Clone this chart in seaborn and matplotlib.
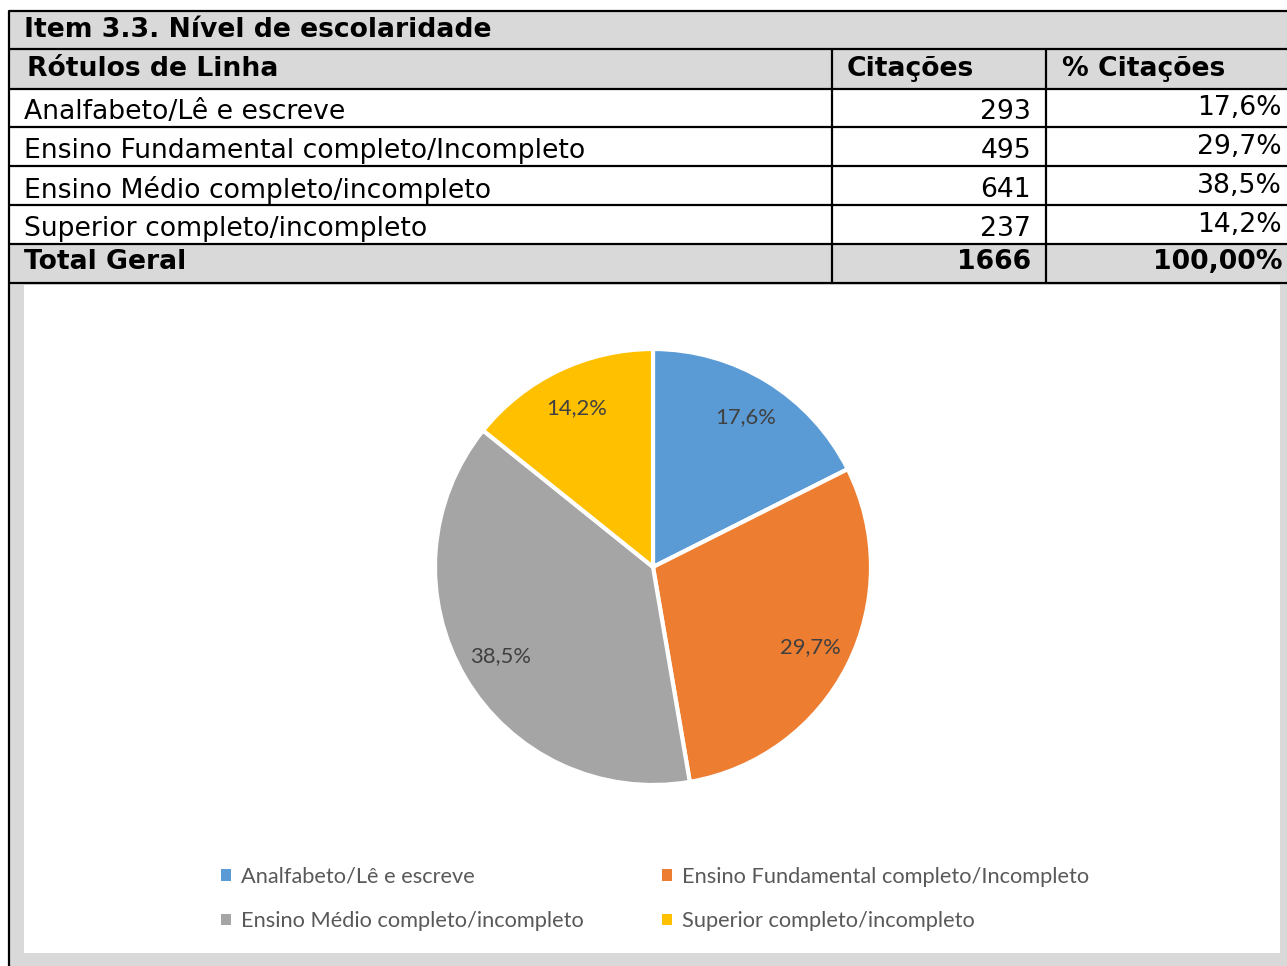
import matplotlib
matplotlib.use("Agg")
import matplotlib.pyplot as plt
from matplotlib.patches import Rectangle
import seaborn as sns

# ---- data ----
title = "Item 3.3. Nível de escolaridade"
header = ["Rótulos de Linha", "Citações", "% Citações"]
categories = [
    "Analfabeto/Lê e escreve",
    "Ensino Fundamental completo/Incompleto",
    "Ensino Médio completo/incompleto",
    "Superior completo/incompleto",
]
citacoes = [293, 495, 641, 237]
pct_labels = ["17,6%", "29,7%", "38,5%", "14,2%"]
total_label = "Total Geral"
total_citacoes = "1666"
total_pct = "100,00%"
colors = ["#5B9BD5", "#ED7D31", "#A5A5A5", "#FFC000"]

sns.set_theme(style="white")
plt.rcParams["font.family"] = ["DejaVu Sans"]
plt.rcParams["text.color"] = "black"

W, H = 1287, 966
fig = plt.figure(figsize=(W / 100, H / 100), dpi=100)
fig.patch.set_facecolor("white")

# overlay axes in pixel coordinates for table layout
bg = fig.add_axes([0, 0, 1, 1])
bg.set_xlim(0, W)
bg.set_ylim(H, 0)
bg.axis("off")

gray = "#D9D9D9"
# chart area frame
bg.add_patch(Rectangle((9, 283), W - 9, H - 283, facecolor=gray, edgecolor="none"))
bg.add_patch(Rectangle((24, 285), 1280 - 24, 953 - 285, facecolor="white", edgecolor="none"))

# table backgrounds
rows_y = [11, 49, 89, 127, 166, 205, 244, 283]
for (y0, y1) in [(11, 49), (49, 89), (244, 283)]:
    bg.add_patch(Rectangle((9, y0), W - 9, y1 - y0, facecolor=gray, edgecolor="none"))

lw = 1.6
for y in rows_y:
    bg.plot([9, W], [y, y], color="black", lw=lw, solid_capstyle="butt")
bg.plot([9, 9], [11, H], color="black", lw=lw)
for x in [832, 1046]:
    bg.plot([x, x], [49, 283], color="black", lw=lw)

fs = 19.2
tc = "black"
bg.text(24, 30, title, fontsize=fs, fontweight="bold", va="center", ha="left", color=tc)
bg.text(27, 69, header[0], fontsize=fs, fontweight="bold", va="center", ha="left", color=tc)
bg.text(847, 69, header[1], fontsize=fs, fontweight="bold", va="center", ha="left", color=tc)
bg.text(1062, 69, header[2], fontsize=fs, fontweight="bold", va="center", ha="left", color=tc)
row_centers = [112, 151, 190, 229]
for yc, cat, n, p in zip(row_centers, categories, citacoes, pct_labels):
    bg.text(24, yc, cat, fontsize=fs, va="center", ha="left", color=tc)
    bg.text(1031, yc, str(n), fontsize=fs, va="center", ha="right", color=tc)
    bg.text(1282, yc - 4, p, fontsize=fs, va="center", ha="right", color=tc)
bg.text(24, 262, total_label, fontsize=fs, fontweight="bold", va="center", ha="left", color=tc)
bg.text(1031, 262, total_citacoes, fontsize=fs, fontweight="bold", va="center", ha="right", color=tc)
bg.text(1282, 262, total_pct, fontsize=fs, fontweight="bold", va="center", ha="right", color=tc)

# ---- pie ----
cx, cy, r = 653, 567, 218
pad = 1.1
size = r * pad
ax = fig.add_axes([(cx - size) / W, (H - cy - size) / H, 2 * size / W, 2 * size / H])
wedges, texts = ax.pie(
    citacoes,
    colors=colors,
    startangle=90,
    counterclock=False,
    labels=pct_labels,
    labeldistance=0.81,
    wedgeprops=dict(edgecolor="white", linewidth=3),
    textprops=dict(color="#404040", fontsize=15.8, family="Lato"),
)
for t in texts:
    t.set_ha("center")
    t.set_va("center")
ax.set_xlim(-pad, pad)
ax.set_ylim(-pad, pad)
ax.set_aspect("equal")
ax.axis("off")

# ---- legend (row-wise order) ----
handles = [Rectangle((0, 0), 1, 1, facecolor=c, edgecolor="none") for c in colors]
order = [0, 2, 1, 3]
leg = fig.legend(
    [handles[i] for i in order], [categories[i] for i in order],
    loc="center", bbox_to_anchor=(655 / W, 1 - 899 / H),
    ncol=2, frameon=False,
    prop=dict(family="Lato", size=15.7),
    labelcolor="#595959",
    handlelength=0.45, handleheight=0.45, handletextpad=0.45,
    columnspacing=3.6, labelspacing=1.12,
)

fig.savefig("out.png", dpi=100, facecolor="white")
